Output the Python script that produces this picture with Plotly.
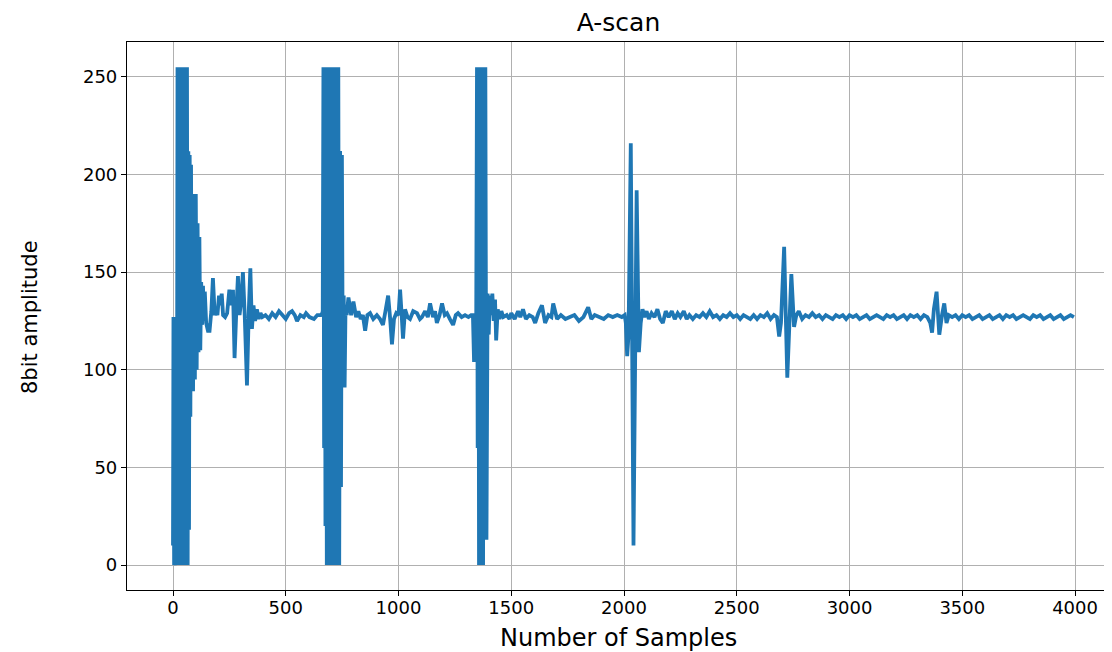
import plotly.graph_objects as go

# ---- data ----
# echo 1 (main bang)
echo1_x = [0, 2, 5, 8, 11, 14, 17, 20, 23, 26, 29, 32, 35, 38, 41, 44, 47, 50, 53, 56, 59, 62, 65,
           68, 71, 74, 77, 80, 83, 86, 89, 93, 97, 101, 105, 109, 113, 117, 121, 125, 129, 133, 137,
           141, 147, 155, 162, 170, 177, 185, 192]
echo1_y = [10, 127, 0, 5, 0, 35, 0, 255, 0, 255, 0, 255, 0, 255, 0, 255, 0, 255, 0, 255, 0, 255, 0,
           212, 18, 210, 76, 205, 89, 190, 89, 188, 95, 190, 100, 175, 109, 168, 110, 145, 123, 143,
           125, 140, 124, 120, 120, 130, 147, 128, 130]

ring1_x = [197, 204, 210, 216, 222, 231, 240, 250, 258, 266, 273, 280, 288, 295, 302, 310, 318, 328,
           336, 343, 350, 357, 364, 372, 380, 388, 396, 410, 425, 440, 455, 470, 485, 500, 515, 528,
           540, 550, 565, 580, 590, 605, 625, 640, 655, 662]
ring1_y = [128, 138, 133, 139, 128, 127, 129, 141, 133, 141, 106, 128, 148, 128, 135, 150, 128, 92,
           130, 152, 121, 133, 125, 131, 126, 129, 127, 128, 126, 129, 127, 130, 128, 126, 129, 130,
           128, 125, 128, 127, 129, 127, 126, 128, 128, 129]

# echo 2
echo2_x = [664, 667, 670, 673, 676, 679, 682, 685, 688, 691, 694, 697, 700, 703, 706, 709, 712, 715,
           718, 721, 724, 727, 730, 733, 737, 741, 745, 749, 753, 757, 761, 765, 770]
echo2_y = [130, 255, 60, 255, 20, 255, 0, 255, 0, 255, 0, 255, 0, 255, 0, 255, 0, 255,
           0, 255, 0, 255, 0, 255, 0, 212, 40, 210, 91, 138, 91, 132, 128]

ring2_x = [778, 790, 800, 812, 822, 832, 842, 852, 862, 874, 888, 904, 918, 931, 942, 954, 963, 971,
           980, 990, 1000, 1007, 1014, 1020, 1029, 1040, 1051, 1065, 1082, 1095, 1104, 1118, 1130,
           1140, 1153, 1162, 1170, 1182, 1193, 1205, 1215, 1228, 1242, 1254, 1264, 1280, 1295, 1310,
           1322, 1330]
ring2_y = [137, 128, 135, 127, 130, 126, 128, 120, 128, 129, 126, 128, 126, 123, 130, 138, 126, 113,
           126, 129, 128, 141, 128, 116, 131, 127, 126, 130, 129, 126, 127, 130, 127,
           134, 127, 130, 124, 128, 134, 128, 129, 126, 123, 128, 129, 127, 128, 127,
           128, 128]

# echo 3
echo3_x = [1335, 1340, 1344, 1348, 1351, 1354, 1357, 1360, 1363, 1366, 1369, 1372, 1375, 1378, 1381,
           1385, 1390, 1395, 1400, 1405, 1410, 1416, 1422, 1428, 1433, 1440, 1448, 1456, 1465]
echo3_y = [104, 128, 104, 255, 60, 255, 0, 255, 0, 255, 0, 255, 0, 255, 30,
           255, 13, 139, 118, 138, 128, 139, 125, 136, 115, 131, 126, 130, 127]

ring3_x = [1480, 1492, 1500, 1515, 1530, 1540, 1552, 1565, 1580, 1595, 1606, 1620, 1636, 1650, 1665,
           1678, 1686, 1703, 1720, 1740, 1760, 1780, 1800, 1820, 1841, 1855, 1870, 1890, 1910, 1930,
           1950, 1970, 1990, 2003]
ring3_y = [128, 126, 129, 126, 130, 127, 131, 126, 128, 127, 124, 129, 133, 124, 128,
           127, 134, 126, 128, 126, 127, 128, 125, 127, 132, 126, 128, 127, 126, 128,
           127, 128, 127, 128]

# echo 4
echo4_x = [2008, 2014, 2020, 2030, 2042, 2056, 2066, 2074, 2082, 2090]
echo4_y = [124, 107, 118, 216, 10, 192, 109, 124, 131, 127]

ring4_x = [2100, 2110, 2122, 2135, 2148, 2160, 2172, 2185, 2198, 2212, 2225, 2238, 2250, 2265, 2278,
           2290, 2305, 2320, 2335, 2350, 2365, 2380, 2395, 2410, 2425, 2440, 2455, 2470, 2485, 2500,
           2515, 2530, 2545, 2560, 2575, 2590, 2605, 2620, 2635, 2650, 2665, 2678]
ring4_y = [130, 126, 129, 127, 131, 126, 124, 130, 127, 130, 126, 129, 127, 130, 126,
           128, 126, 128, 127, 129, 127, 130, 127, 128, 126, 128, 127, 129, 127, 128,
           126, 128, 127, 126, 128, 126, 128, 127, 129, 126, 128, 127]

# echo 5
echo5_x = [2688, 2696, 2710, 2724, 2742, 2754, 2764]
echo5_y = [117, 124, 163, 96, 149, 122, 128]

ring5_x = [2775, 2790, 2805, 2820, 2835, 2850, 2865, 2880, 2895, 2910, 2925, 2940, 2955, 2970, 2985,
           3000, 3015, 3030, 3045, 3060, 3075, 3090, 3105, 3120, 3135, 3150, 3165, 3180, 3195, 3210,
           3225, 3240, 3255, 3270, 3285, 3300, 3315, 3330, 3345]
ring5_y = [130, 126, 128, 127, 129, 127, 128, 126, 128, 127, 126, 128, 127, 128, 126,
           128, 127, 128, 126, 127, 128, 126, 127, 128, 127, 126, 128, 127, 128, 126,
           127, 128, 126, 128, 127, 128, 126, 128, 127]

# echo 6
echo6_x = [3358, 3366, 3374, 3386, 3398, 3410, 3420, 3430, 3440]
echo6_y = [124, 119, 131, 140, 118, 128, 134, 124, 128]

tail_x = [3455, 3470, 3485, 3500, 3515, 3530, 3545, 3560, 3575, 3590, 3605, 3620, 3635, 3650, 3665,
          3680, 3695, 3710, 3725, 3740, 3755, 3770, 3785, 3800, 3815, 3830, 3845, 3860, 3875, 3890,
          3905, 3920, 3935, 3950, 3965, 3980, 3995]
tail_y = [127, 128, 126, 128, 127, 128, 126, 127, 128, 126, 127, 128, 126, 127, 128,
          126, 128, 127, 128, 126, 127, 128, 127, 126, 128, 127, 128, 126, 127, 128,
          126, 127, 128, 126, 127, 128, 127]

x_ticks = [0, 500, 1000, 1500, 2000, 2500, 3000, 3500, 4000]
y_ticks = [0, 50, 100, 150, 200, 250]

samples = (echo1_x + ring1_x + echo2_x + ring2_x + echo3_x + ring3_x + echo4_x + ring4_x
           + echo5_x + ring5_x + echo6_x + tail_x)
amplitude = (echo1_y + ring1_y + echo2_y + ring2_y + echo3_y + ring3_y + echo4_y + ring4_y
             + echo5_y + ring5_y + echo6_y + tail_y)

FONT = "DejaVu Sans"
# the page body has an 8px default margin; figure is sized/margined to compensate
W, H = 1104, 644
L, R, T, B = 119, 2, 34, 62
plot_h = H - T - B

fig = go.Figure(go.Scatter(x=samples, y=amplitude, mode="lines",
                           line=dict(color="#1f77b4", width=3.8, simplify=False),
                           showlegend=False))

axis_common = dict(showline=True, linecolor="black", linewidth=1.2, mirror=True,
                   ticks="outside", ticklen=5, tickwidth=1.2, tickcolor="black",
                   showgrid=True, gridcolor="#b0b0b0", gridwidth=1.4, zeroline=False,
                   tickfont=dict(family=FONT, size=18, color="black"))

fig.update_xaxes(range=[-204, 4155], tickmode="array", tickvals=x_ticks,
                 ticktext=[str(v) for v in x_ticks], ticklabelstandoff=-4, **axis_common)
fig.update_yaxes(range=[-12.8, 267.9], tickmode="array", tickvals=y_ticks,
                 ticktext=[str(v) for v in y_ticks], **axis_common)

fig.update_layout(
    width=W, height=H,
    margin=dict(l=L, r=R, t=T, b=B),
    paper_bgcolor="white", plot_bgcolor="white",
    title=dict(text="A-scan", x=0.5, xref="paper", xanchor="center",
               y=1 - 14 / H, yref="container", yanchor="middle",
               font=dict(family=FONT, size=25, color="black")),
    annotations=[
        dict(text="Number of Samples", xref="paper", yref="paper", x=0.5, y=-48 / plot_h,
             xanchor="center", yanchor="middle", showarrow=False,
             font=dict(family=FONT, size=24, color="black")),
        dict(text="8bit amplitude", xref="paper", yref="paper", x=-(127 - 30) / (W - L - R),
             y=(590 - 317) / plot_h, xanchor="center", yanchor="middle", showarrow=False,
             textangle=-90, font=dict(family=FONT, size=21, color="black")),
    ],
)

fig.write_html("out.html")
